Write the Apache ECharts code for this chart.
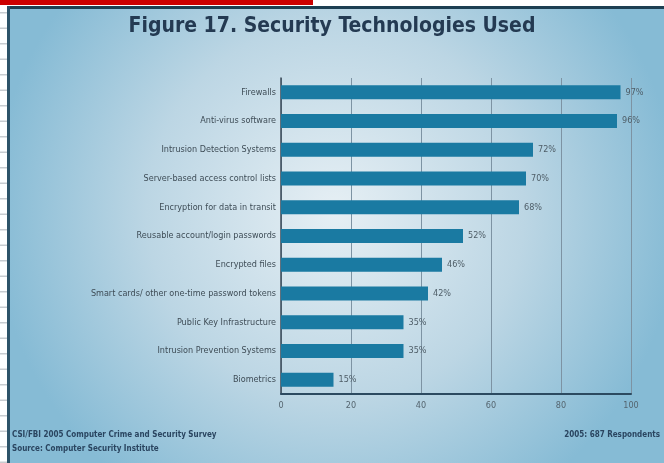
<!DOCTYPE html>
<html>
<head>
<meta charset="utf-8">
<script src="https://cdn.jsdelivr.net/npm/echarts@6/dist/echarts.min.js"></script>
<style>
html,body{margin:0;padding:0;background:#fff;}
#c{width:664px;height:463px;}
</style>
</head>
<body>
<div id="c"></div>
<script>
const categories = [
  "Firewalls",
  "Anti-virus software",
  "Intrusion Detection Systems",
  "Server-based access control lists",
  "Encryption for data in transit",
  "Reusable account/login passwords",
  "Encrypted files",
  "Smart cards/ other one-time password tokens",
  "Public Key Infrastructure",
  "Intrusion Prevention Systems",
  "Biometrics"
];
const values = [97, 96, 72, 70, 68, 52, 46, 42, 35, 35, 15];
const xTicks = [0, 20, 40, 60, 80, 100];
const titleText = "Figure 17. Security Technologies Used";
const footLeft1 = "CSI/FBI 2005 Computer Crime and Security Survey";
const footLeft2 = "Source: Computer Security Institute";
const footRight = "2005: 687 Respondents";

const chart = echarts.init(document.getElementById('c'), null, {renderer: 'canvas'});
const narrow = '"Liberation Sans Narrow","DejaVu Sans Condensed","Liberation Sans",sans-serif';

const leftLines = [];
for (let y = 12; y < 463; y += 15.5) {
  leftLines.push({type: 'rect', shape: {x: 0, y: y, width: 7, height: 1.5}, style: {fill: '#c8ccd0'}, z: 0});
}

chart.setOption({
  animation: false,
  backgroundColor: '#ffffff',
  graphic: [
    {type: 'rect', shape: {x: 7, y: 6, width: 657, height: 457}, style: {
      fill: {type: 'radial', x: 0.5, y: 0.45, r: 0.75, colorStops: [
        {offset: 0, color: '#e6eff4'}, {offset: 0.55, color: '#bcd6e4'}, {offset: 1, color: '#86bbd5'}]}
    }, z: -10},
    {type: 'rect', shape: {x: 7, y: 6, width: 657, height: 3}, style: {fill: '#1d3f52'}, z: -9},
    {type: 'rect', shape: {x: 7, y: 6, width: 3, height: 457}, style: {fill: '#2d5368'}, z: -9},
    {type: 'rect', shape: {x: 0, y: 0, width: 313, height: 5}, style: {fill: '#cc0000'}, z: -9},
    ...leftLines,
    {type: 'text', left: 'center', top: 16, style: {text: titleText, fill: '#243a52', font: 'bold 21px ' + narrow}},
    {type: 'text', left: 12, top: 431, style: {text: footLeft1, fill: '#2a4560', font: 'bold 8px ' + narrow}},
    {type: 'text', left: 12, top: 445, style: {text: footLeft2, fill: '#2a4560', font: 'bold 8px ' + narrow}},
    {type: 'text', right: 4, top: 431, style: {text: footRight, fill: '#2a4560', font: 'bold 8px ' + narrow}}
  ],
  grid: {left: 281, right: 33, top: 78, bottom: 69, containLabel: false},
  xAxis: {
    type: 'value', min: 0, max: 100, interval: 20,
    axisLine: {show: true, lineStyle: {color: '#2c4a60', width: 2}},
    axisTick: {show: false},
    splitLine: {show: true, lineStyle: {color: '#7d93a3', width: 1}},
    axisLabel: {color: '#55656f', fontSize: 9, fontFamily: narrow, margin: 7,
      formatter: v => xTicks.includes(v) ? String(v) : ''}
  },
  yAxis: {
    type: 'category', data: categories, inverse: true,
    axisLine: {show: true, lineStyle: {color: '#3a4a58', width: 1.5}},
    axisTick: {show: false},
    axisLabel: {color: '#3e4c56', fontSize: 9, fontFamily: narrow, margin: 5}
  },
  series: [{
    type: 'bar', data: values, barWidth: 14,
    itemStyle: {color: '#1a7aa2'},
    label: {show: true, position: 'right', distance: 5, formatter: '{c}%', color: '#4e5d67', fontSize: 9, fontFamily: narrow}
  }]
});
</script>
</body>
</html>
